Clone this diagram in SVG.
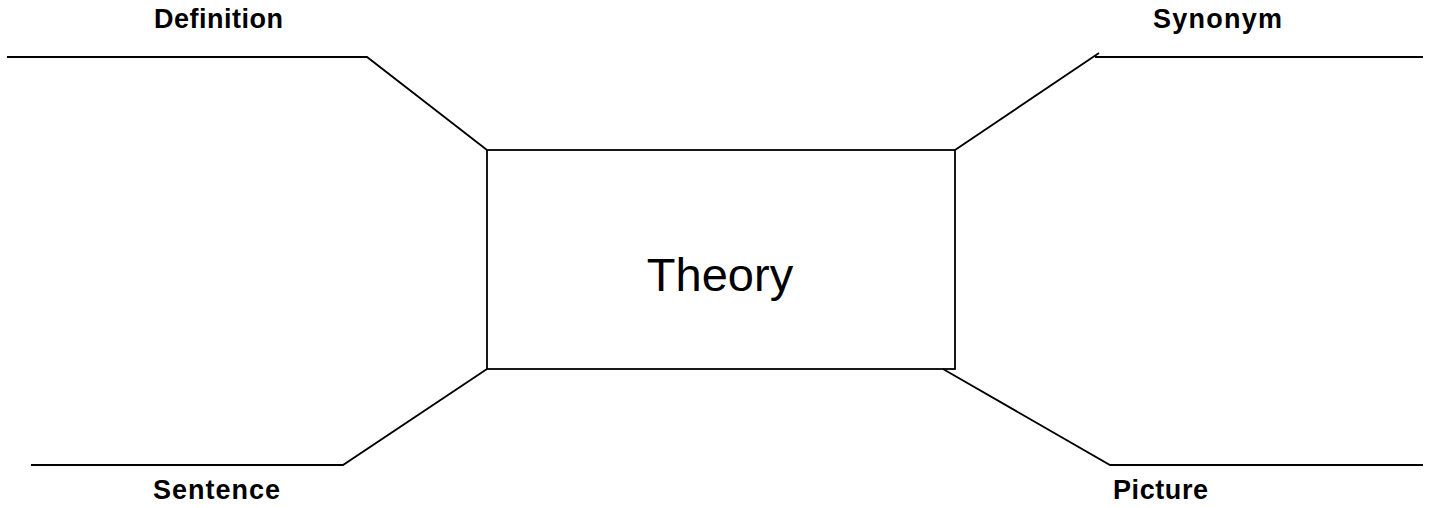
<svg xmlns="http://www.w3.org/2000/svg" width="1434" height="508" viewBox="0 0 1434 508">
<style>
.ln{fill:none;stroke:#000;stroke-width:1.8}
.lbl{font-family:"Liberation Sans",Arial,sans-serif;font-weight:bold;font-size:27px;fill:#000}
.ctr{font-family:"Liberation Sans",Arial,sans-serif;font-size:47px;fill:#000}
</style>
<rect width="1434" height="508" fill="#fff"/>
<g id="connectors">
<polyline class="ln" points="7,57 367,57 487,150"/>
<polyline class="ln" points="955,150 1099,53"/>
<line class="ln" x1="1095" y1="57" x2="1423" y2="57"/>
<polyline class="ln" points="31,465 343,465 487,369"/>
<polyline class="ln" points="943,369 1110,465 1423,465"/>
</g>
<g id="theory">
<rect class="ln" x="487" y="150" width="468" height="219"/>
<text class="ctr" x="720" y="291" text-anchor="middle">Theory</text>
</g>
<g id="definition"><text class="lbl" x="154" y="28" textLength="129" lengthAdjust="spacing">Definition</text></g>
<g id="synonym"><text class="lbl" x="1153" y="28" textLength="129" lengthAdjust="spacing">Synonym</text></g>
<g id="sentence"><text class="lbl" x="153" y="499" textLength="127" lengthAdjust="spacing">Sentence</text></g>
<g id="picture"><text class="lbl" x="1113" y="499" textLength="95" lengthAdjust="spacing">Picture</text></g>
</svg>
